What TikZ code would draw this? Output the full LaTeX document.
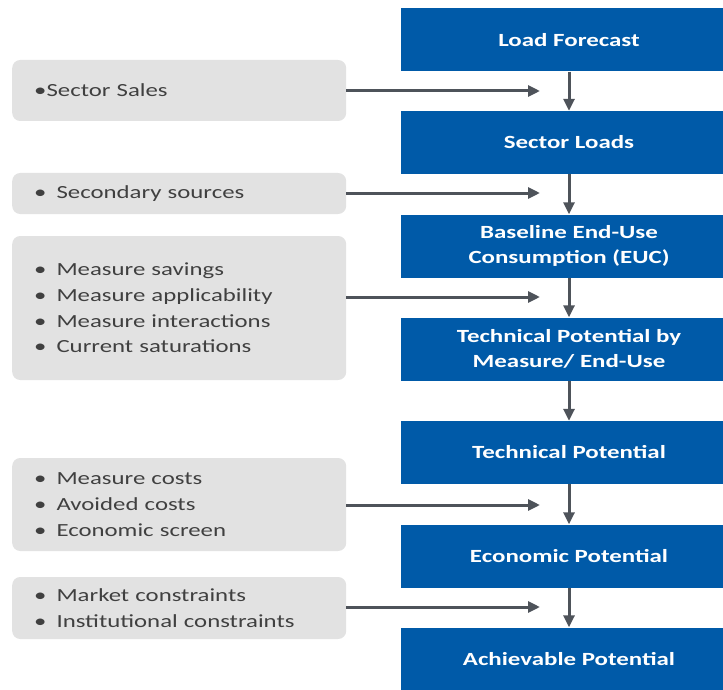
\documentclass[tikz,border=0pt]{standalone}
\usepackage{fontspec}
\setmainfont{Carlito}[FakeStretch=1.34]
\usetikzlibrary{arrows.meta}
\definecolor{stageblue}{RGB}{0,90,168}
\definecolor{inputgray}{RGB}{226,226,226}
\definecolor{arrowgray}{RGB}{78,83,90}
\definecolor{textgray}{RGB}{64,64,64}
\newcommand{\bul}{\textbullet\hspace{10pt}}
\begin{document}
\begin{tikzpicture}
[x=1pt,y=-1pt,
 stage/.style={fill=stageblue, text=white, font=\fontsize{18.6}{25}\selectfont\bfseries,
   minimum width=336pt, minimum height=63pt, align=center, inner sep=0pt},
 inbox/.style={fill=inputgray, text=textgray, rounded corners=8pt, font=\fontsize{18.5}{25.7}\selectfont,
   minimum width=334pt, align=left, anchor=west, text width=290pt, inner xsep=22pt, inner ysep=0pt},
 flow/.style={draw=arrowgray, line width=3pt, -{Triangle[length=12pt,width=11pt]}}]
  \clip (0,0) rectangle (723,690);
  % stages
  \node[stage] (lf)  at (569,40)    {Load Forecast};
  \node[stage] (sl)  at (569,142.5) {Sector Loads};
  \node[stage] (euc) at (569,246)   {Baseline End-Use\\Consumption (EUC)};
  \node[stage] (tpm) at (569,349)   {Technical Potential by\\Measure/ End-Use};
  \node[stage] (tp)  at (569,452.5) {Technical Potential};
  \node[stage] (ep)  at (569,556)   {Economic Potential};
  \node[stage] (ap)  at (569,659)   {Achievable Potential};
  % inputs
  \node[inbox, minimum height=61pt] (in1) at (12,90.5)  {\textbullet Sector Sales};
  \node[inbox, minimum height=41pt] (in2) at (12,193.5) {\bul Secondary sources};
  \node[inbox, minimum height=144pt] (in3) at (12,308)
    {\bul Measure savings\\\bul Measure applicability\\\bul Measure interactions\\\bul Current saturations};
  \node[inbox, minimum height=93pt] (in4) at (12,504.5)
    {\bul Measure costs\\\bul Avoided costs\\\bul Economic screen};
  \node[inbox, minimum height=62pt] (in5) at (12,608)
    {\bul Market constraints\\\bul Institutional constraints};
  % arrow ends
  \coordinate (e1) at (540,91);
  \coordinate (e2) at (540,193);
  \coordinate (e3) at (540,297);
  \coordinate (e4) at (540,505);
  \coordinate (e5) at (540,607);
  \foreach \from/\to in {lf/sl,sl/euc,euc/tpm,tpm/tp,tp/ep,ep/ap}
  \draw[flow] (\from) -- (\to);
  \foreach \n in {1,...,5}
  \draw[flow] (in\n.east |- e\n) -- (e\n);
\end{tikzpicture}
\end{document}
